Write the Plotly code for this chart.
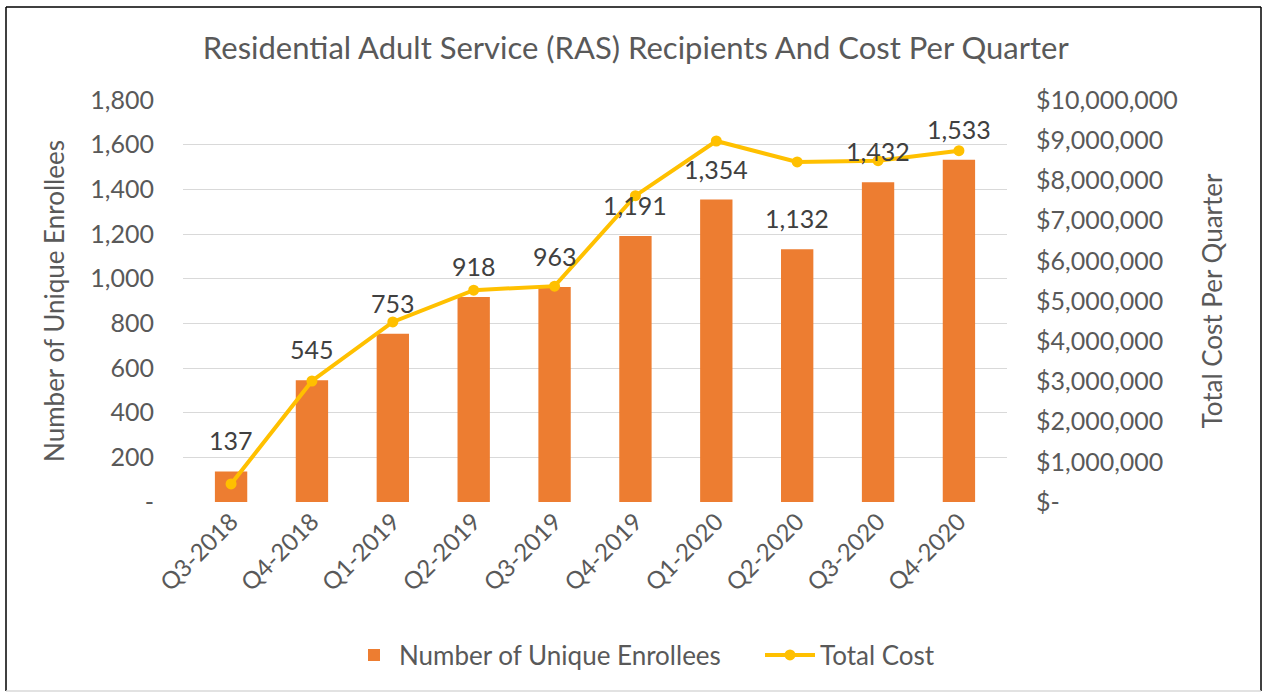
import plotly.graph_objects as go

categories = ["Q3-2018", "Q4-2018", "Q1-2019", "Q2-2019", "Q3-2019",
              "Q4-2019", "Q1-2020", "Q2-2020", "Q3-2020", "Q4-2020"]
enrollees = [137, 545, 753, 918, 963, 1191, 1354, 1132, 1432, 1533]
total_cost = [450000, 3010000, 4480000, 5270000, 5370000,
              7620000, 8980000, 8460000, 8490000, 8740000]

left_ticks = [0, 200, 400, 600, 800, 1000, 1200, 1400, 1600, 1800]
left_text = ["-", "200", "400", "600", "800", "1,000", "1,200", "1,400", "1,600", "1,800"]
right_ticks = [i * 1000000 for i in range(11)]
right_text = ["$-"] + ["${:,}".format(v) for v in right_ticks[1:]]

FONT = "Lato"
GREY = "#595959"

fig = go.Figure()
fig.add_trace(go.Bar(
    x=categories, y=enrollees, name="Number of Unique Enrollees",
    marker=dict(color="#ED7D31", line=dict(width=0)),
    yaxis="y", legend="legend",
))
fig.add_trace(go.Scatter(
    x=categories, y=total_cost, name="Total Cost", mode="lines+markers",
    line=dict(color="#FFC000", width=4),
    marker=dict(color="#FFC000", size=11, symbol="circle"),
    yaxis="y2", legend="legend2",
))

for c, v in zip(categories, enrollees):
    fig.add_annotation(x=c, y=v, xref="x", yref="y", text="{:,}".format(v),
                       showarrow=False, yanchor="bottom", yshift=14,
                       font=dict(family=FONT, size=25, color="#404040"))

W0, W1 = 183, 1007
T0, T1 = 100, 502
pw, ph = W1 - W0, T1 - T0

def px(x):
    return (x - W0) / pw

def py(y):
    return (T1 - y) / ph

border = [
    (6, 7, 1261, 7, "#000000"),
    (6, 7, 6, 691, "#000000"),
    (1261, 7, 1261, 691, "#000000"),
    (6, 691, 1261, 691, "#D9D9D9"),
]
for x0, y0, x1, y1, col in border:
    fig.add_shape(type="line", xref="paper", yref="paper",
                  x0=px(x0), y0=py(y0), x1=px(x1), y1=py(y1),
                  line=dict(color=col, width=1.5))

legend_font = dict(family=FONT, size=26, color=GREY)
fig.update_layout(
    width=1264, height=694,
    margin=dict(l=W0, r=1264 - W1, t=T0, b=694 - T1),
    paper_bgcolor="white", plot_bgcolor="white",
    font=dict(family=FONT, color=GREY),
    title=dict(text="Residential Adult Service (RAS) Recipients And Cost Per Quarter",
               x=0.503, xanchor="center", y=1 - 48 / 694, yanchor="middle",
               font=dict(family=FONT, size=31, color=GREY)),
    bargap=0.6,
    showlegend=True,
    legend=dict(orientation="h", x=px(349), xanchor="left", y=py(655), yanchor="middle",
                font=legend_font, itemwidth=40),
    legend2=dict(orientation="h", x=px(760), xanchor="left", y=py(655), yanchor="middle",
                 font=legend_font, itemwidth=50),
    xaxis=dict(type="category", tickangle=-45, showgrid=False, showline=False,
               ticks="", tickfont=dict(family=FONT, size=24, color=GREY)),
    yaxis=dict(range=[0, 1800], tickvals=left_ticks, ticktext=left_text,
               showgrid=True, gridcolor="#D9D9D9", gridwidth=1, zeroline=False,
               showline=False, ticks="", ticklen=0, ticklabelstandoff=28,
               tickfont=dict(family=FONT, size=25, color=GREY),
               title=dict(text="Number of Unique Enrollees", standoff=18,
                          font=dict(family=FONT, size=26, color=GREY))),
    yaxis2=dict(range=[0, 10000000], tickvals=right_ticks, ticktext=right_text,
                overlaying="y", side="right", showgrid=False, zeroline=False,
                showline=False, ticks="", ticklabelstandoff=28,
                tickfont=dict(family=FONT, size=25, color=GREY),
                title=dict(text="Total Cost Per Quarter", standoff=26,
                           font=dict(family=FONT, size=26, color=GREY))),
)

fig.write_html("out.html", config={"displayModeBar": False},
               post_script="document.body.style.margin='0';document.body.style.overflow='hidden';")
